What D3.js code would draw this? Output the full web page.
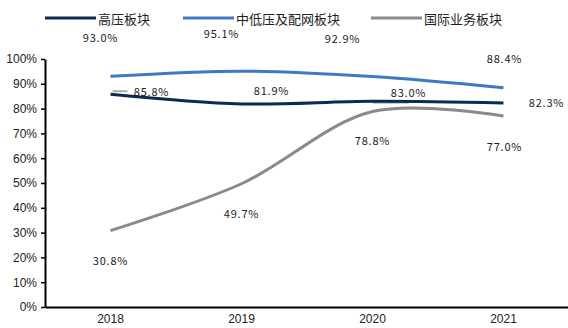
<!DOCTYPE html>
<html><head><meta charset="utf-8">
<script src="https://cdn.jsdelivr.net/npm/d3@7"></script>
<style>body{margin:0;background:#fff}svg{display:block}</style>
</head><body><svg id="c" width="568" height="328"></svg>
<script>
const years = ["2018","2019","2020","2021"];
const seriesNames = ["高压板块","中低压及配网板块","国际业务板块"];
const highVoltage = [85.8, 81.9, 83.0, 82.3];
const lowVoltageGrid = [93.0, 95.1, 92.9, 88.4];
const international = [30.8, 49.7, 78.8, 77.0];
const yTicks = [0,10,20,30,40,50,60,70,80,90,100];

const colors = ["#0c2b50","#3b7cc0","#8a8a8a"];
// label offsets (dx, dy) relative to each point, per series
const labelOffsets = [
  [[41,-3],[30,-14],[36,-9],[43,-1]],
  [[-10,-39],[-20,-38],[-30,-39],[1,-30]],
  [[0,29],[0,29],[0,28],[1,30]]
];

const svg = d3.select("#c");
const x = d3.scaleBand().domain(years).range([45, 569]);
const y = d3.scaleLinear().domain([0,100]).range([307, 59]);
const cx = d => x(d) + x.bandwidth()/2;

// y axis
const ya = svg.append("g").attr("transform","translate(45,0)")
  .call(d3.axisLeft(y).tickValues(yTicks).tickFormat(d=>d+"%").tickSize(4).tickSizeOuter(0));
ya.select(".domain").attr("stroke","#000").attr("stroke-width",2);
ya.selectAll(".tick line").attr("stroke","#000").attr("stroke-width",1.5);
ya.selectAll(".tick text").attr("font-family","Arial, 'Liberation Sans', sans-serif").attr("font-size",12).attr("fill","#222").attr("x",-8);

// x axis
const xa = svg.append("g").attr("transform","translate(0,307)")
  .call(d3.axisBottom(x).tickSize(0).tickSizeOuter(0));
xa.select(".domain").attr("stroke","#000").attr("stroke-width",2);
xa.selectAll(".tick text").attr("font-family","Arial, 'Liberation Sans', sans-serif").attr("font-size",12).attr("fill","#222").attr("dy","1.05em");

const all = [highVoltage, lowVoltageGrid, international];
const line = d3.line().x((d,i)=>cx(years[i])).y(d=>y(d)).curve(d3.curveCatmullRom.alpha(0.5));

// leader artifacts
svg.append("line").attr("x1",cx("2018")+2).attr("x2",cx("2018")+17).attr("y1",y(85.8)-3).attr("y2",y(85.8)-3)
  .attr("stroke","#aaa").attr("stroke-width",2);
svg.append("line").attr("x1",cx("2020")).attr("x2",cx("2020")+36).attr("y1",y(83.0)+1.5).attr("y2",y(83.0)+1.5)
  .attr("stroke","#bbb").attr("stroke-width",2);

// draw order: international, low, high
[2,1,0].forEach(s=>{
  svg.append("path").datum(all[s]).attr("d",line).attr("fill","none")
    .attr("stroke",colors[s]).attr("stroke-width",3).attr("stroke-linecap","butt");
});

// labels
all.forEach((vals,s)=>{
  svg.append("g").selectAll("text").data(vals).join("text")
    .attr("x",(d,i)=>cx(years[i])+labelOffsets[s][i][0])
    .attr("y",(d,i)=>y(d)+labelOffsets[s][i][1])
    .attr("text-anchor","middle").attr("dominant-baseline","central")
    .attr("font-family","'Noto Sans CJK SC', sans-serif").attr("font-size",11)
    .attr("letter-spacing","0.8px").attr("fill","#222")
    .text(d=>d.toFixed(1)+"%");
});

// legend
const legendX = [45, 183, 371];
const lg = svg.append("g");
seriesNames.forEach((n,i)=>{
  lg.append("line").attr("x1",legendX[i]).attr("x2",legendX[i]+51).attr("y1",18).attr("y2",18)
    .attr("stroke",colors[i]).attr("stroke-width",3);
  lg.append("text").attr("x",legendX[i]+53).attr("y",18).attr("dominant-baseline","central")
    .attr("font-family","'Noto Sans CJK SC', sans-serif").attr("font-size",13).attr("fill","#222").text(n);
});
</script></body></html>
